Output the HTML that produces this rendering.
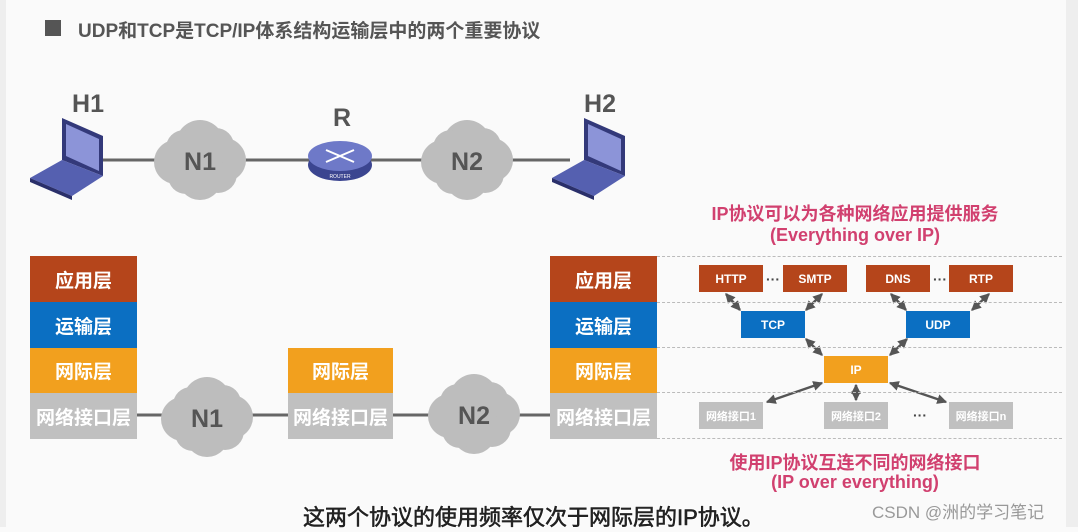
<!DOCTYPE html>
<html><head><meta charset="utf-8"><style>
body{margin:0;width:1078px;height:527px;background:#fafafa;position:relative;overflow:hidden;font-family:"Liberation Sans","Noto Sans CJK SC",sans-serif;}
.a{position:absolute;}
.box{position:absolute;color:#fff;font-weight:bold;display:flex;align-items:center;justify-content:center;}
.L{font-size:19px;}
.s{font-size:12px;}
.r{background:#b5451b}.b{background:#0b6fc2}.o{background:#f2a01e}.g{background:#c0c0c0}
.pink{position:absolute;color:#d1406f;font-weight:bold;font-size:18px;text-align:center;width:400px;}
.dot{position:absolute;left:657px;width:405px;border-top:1px dashed #bbb;}
</style></head><body>
<div class="a" style="left:0;top:0;width:6px;height:527px;background:#eee"></div>
<div class="a" style="left:1066px;top:0;width:12px;height:527px;background:#eee"></div>
<div class="a" style="left:45px;top:20px;width:16px;height:16px;background:#555"></div>
<div class="a" style="left:78px;top:16px;font-size:19px;font-weight:bold;color:#555">UDP和TCP是TCP/IP体系结构运输层中的两个重要协议</div>

<svg class="a" style="left:0;top:0" width="1078" height="527">
<line x1="100" y1="160" x2="570" y2="160" stroke="#666" stroke-width="3"/>
<line x1="137" y1="415" x2="550" y2="415" stroke="#666" stroke-width="3"/>
<defs><g id="cl"><circle cx="-24" cy="2" r="22"/><circle cx="0" cy="-16" r="24"/><circle cx="24" cy="0" r="22"/><circle cx="0" cy="18" r="22"/><circle cx="-16" cy="-12" r="18"/><circle cx="18" cy="14" r="19"/><circle cx="-14" cy="16" r="18"/><circle cx="16" cy="-14" r="18"/></g></defs>
<g fill="#bdbdbd">
<use href="#cl" transform="translate(200,160)"/>
<use href="#cl" transform="translate(467,160)"/>
<use href="#cl" transform="translate(207,417)"/>
<use href="#cl" transform="translate(474,414)"/>
</g>
<g font-family="Liberation Sans" font-weight="bold" fill="#555" text-anchor="middle">
<text x="200" y="170" font-size="25">N1</text><text x="467" y="170" font-size="25">N2</text>
<text x="207" y="427" font-size="25">N1</text><text x="474" y="424" font-size="25">N2</text>
<text x="88" y="112" font-size="25">H1</text><text x="600" y="112" font-size="25">H2</text>
<text x="342" y="126" font-size="25">R</text>
</g>
<g id="lp"><polygon points="62,118 103,136 103,176 62,160" fill="#33397a"/><polygon points="66,124 99,139 99,171 66,156" fill="#8c94d8"/><polygon points="30,178 62,160 103,176 72,196" fill="#5560b0"/><polygon points="30,178 72,196 72,200 30,182" fill="#2a2f6a"/></g>
<use href="#lp" transform="translate(522,0)"/>
<ellipse cx="340" cy="165" rx="32" ry="16" fill="#3b4590"/><ellipse cx="340" cy="156" rx="32" ry="15" fill="#6e79c8"/>
<text x="340" y="178" font-size="5" fill="#fff" text-anchor="middle" font-family="Liberation Sans">ROUTER</text>
<g stroke="#fff" stroke-width="2"><line x1="326" y1="150" x2="354" y2="162"/><line x1="354" y1="150" x2="326" y2="162"/></g>
<defs><marker id="m" markerWidth="4" markerHeight="4" refX="3.5" refY="2" orient="auto-start-reverse"><path d="M0,0L4,2L0,4z" fill="#555"/></marker></defs>
<g stroke="#555" stroke-width="2.5" marker-start="url(#m)" marker-end="url(#m)">
<line x1="726" y1="294" x2="740" y2="310"/><line x1="822" y1="294" x2="806" y2="310"/>
<line x1="891" y1="294" x2="906" y2="310"/><line x1="989" y1="294" x2="972" y2="310"/>
<line x1="806" y1="339" x2="822" y2="355"/><line x1="907" y1="339" x2="890" y2="355"/>
<line x1="822" y1="383" x2="767" y2="402"/><line x1="856" y1="385" x2="856" y2="400"/><line x1="890" y1="383" x2="946" y2="402"/>
</g>
<g fill="#444" font-size="14" font-weight="bold" font-family="Liberation Sans"><text x="766" y="284">···</text><text x="933" y="284">···</text><text x="913" y="420">···</text></g>
</svg>

<div class="box L r" style="left:30px;top:256px;width:107px;height:46px">应用层</div>
<div class="box L b" style="left:30px;top:302px;width:107px;height:46px">运输层</div>
<div class="box L o" style="left:30px;top:348px;width:107px;height:45px">网际层</div>
<div class="box L g" style="left:30px;top:393px;width:107px;height:46px">网络接口层</div>
<div class="box L o" style="left:288px;top:348px;width:105px;height:45px">网际层</div>
<div class="box L g" style="left:288px;top:393px;width:105px;height:46px">网络接口层</div>
<div class="box L r" style="left:550px;top:256px;width:107px;height:46px">应用层</div>
<div class="box L b" style="left:550px;top:302px;width:107px;height:46px">运输层</div>
<div class="box L o" style="left:550px;top:348px;width:107px;height:45px">网际层</div>
<div class="box L g" style="left:550px;top:393px;width:107px;height:46px">网络接口层</div>

<div class="dot" style="top:256px"></div><div class="dot" style="top:302px"></div><div class="dot" style="top:347px"></div><div class="dot" style="top:392px"></div><div class="dot" style="top:438px"></div>

<div class="box s r" style="left:699px;top:265px;width:64px;height:27px">HTTP</div>
<div class="box s r" style="left:783px;top:265px;width:64px;height:27px">SMTP</div>
<div class="box s r" style="left:866px;top:265px;width:64px;height:27px">DNS</div>
<div class="box s r" style="left:949px;top:265px;width:64px;height:27px">RTP</div>
<div class="box s b" style="left:741px;top:311px;width:64px;height:27px">TCP</div>
<div class="box s b" style="left:906px;top:311px;width:64px;height:27px">UDP</div>
<div class="box s o" style="left:824px;top:356px;width:64px;height:27px">IP</div>
<div class="box s g" style="left:699px;top:402px;width:64px;height:27px;font-size:11px">网络接口1</div>
<div class="box s g" style="left:824px;top:402px;width:64px;height:27px;font-size:11px">网络接口2</div>
<div class="box s g" style="left:949px;top:402px;width:64px;height:27px;font-size:11px">网络接口n</div>

<div class="pink" style="left:655px;top:200px">IP协议可以为各种网络应用提供服务</div>
<div class="pink" style="left:655px;top:225px">(Everything over IP)</div>
<div class="pink" style="left:655px;top:449px">使用IP协议互连不同的网络接口</div>
<div class="pink" style="left:655px;top:472px">(IP over everything)</div>

<div class="a" style="left:303px;top:500px;font-size:22px;color:#222;-webkit-text-stroke:0.6px #222;text-shadow:1px 1px 0 #fff,-1px -1px 0 #fff,1px -1px 0 #fff,-1px 1px 0 #fff">这两个协议的使用频率仅次于网际层的IP协议。</div>
<div class="a" style="left:872px;top:498px;font-size:17px;color:#999">CSDN @洲的学习笔记</div>
</body></html>
